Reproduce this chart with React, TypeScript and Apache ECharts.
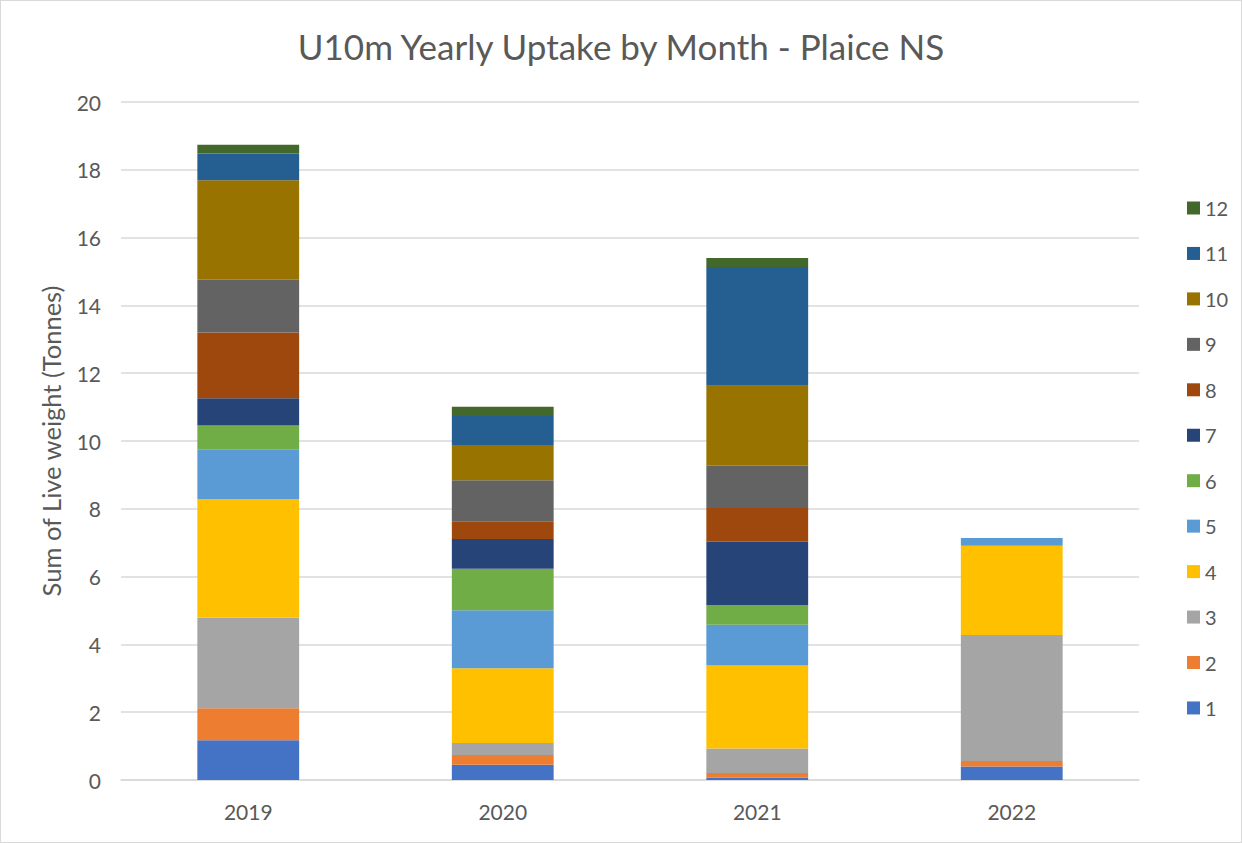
import React, { useEffect, useRef } from "react";
import * as echarts from "echarts";

const years = ["2019", "2020", "2021", "2022"];
const months = ["1", "2", "3", "4", "5", "6", "7", "8", "9", "10", "11", "12"];
const m1 = [1.17, 0.45, 0.07, 0.4];
const m2 = [0.95, 0.29, 0.14, 0.16];
const m3 = [2.67, 0.35, 0.72, 3.72];
const m4 = [3.5, 2.21, 2.45, 2.63];
const m5 = [1.45, 1.71, 1.2, 0.23];
const m6 = [0.72, 1.22, 0.58, 0];
const m7 = [0.8, 0.88, 1.87, 0];
const m8 = [1.94, 0.52, 0.99, 0];
const m9 = [1.56, 1.21, 1.25, 0];
const m10 = [2.93, 1.04, 2.36, 0];
const m11 = [0.79, 0.86, 3.5, 0];
const m12 = [0.26, 0.27, 0.27, 0];
const monthValues = [m1, m2, m3, m4, m5, m6, m7, m8, m9, m10, m11, m12];
const colors = [
  "#4472C4", "#ED7D31", "#A5A5A5", "#FFC000", "#5B9BD5", "#70AD47",
  "#264478", "#9E480E", "#636363", "#997300", "#255E91", "#43682B",
];
const yTicks = { min: 0, max: 20, interval: 2 };

const FONT = "Lato";

export default function App() {
  const ref = useRef<HTMLDivElement>(null);
  useEffect(() => {
    document.body.style.margin = "0";
    const chart = echarts.init(ref.current!, null, { renderer: "svg" });
    chart.setOption({
      animation: false,
      backgroundColor: "#ffffff",
      textStyle: { fontFamily: FONT },
      title: {
        text: "U10m Yearly Uptake by Month - Plaice NS",
        left: "center",
        top: 22,
        textStyle: { fontFamily: FONT, fontSize: 35, fontWeight: "normal", color: "#595959" },
      },
      grid: { left: 120, right: 102, top: 101, bottom: 62 },
      legend: {
        orient: "vertical",
        top: 192,
        left: 1181,
        data: months.slice().reverse(),
        itemWidth: 13,
        itemHeight: 13,
        itemGap: 25.45,
        icon: "rect",
        textStyle: { fontFamily: FONT, fontSize: 20, color: "#595959", lineHeight: 20 },
      },
      xAxis: {
        type: "category",
        data: years,
        axisLine: { lineStyle: { color: "#d9d9d9", width: 1.5 } },
        axisTick: { show: false },
        axisLabel: { fontFamily: FONT, fontSize: 21, color: "#595959", margin: 21 },
      },
      yAxis: {
        type: "value",
        min: yTicks.min,
        max: yTicks.max,
        interval: yTicks.interval,
        name: "Sum of Live weight (Tonnes)",
        nameLocation: "middle",
        nameGap: 57,
        nameTextStyle: { fontFamily: FONT, fontSize: 25.5, color: "#595959" },
        axisLine: { show: false },
        axisTick: { show: false },
        axisLabel: { fontFamily: FONT, fontSize: 21, color: "#595959", margin: 20 },
        splitLine: { lineStyle: { color: "#d9d9d9", width: 1.5 } },
      },
      series: months.map((m, i) => ({
        name: m,
        type: "bar",
        stack: "total",
        barWidth: "40%",
        itemStyle: { color: colors[i] },
        data: monthValues[i],
      })),
    });
    return () => chart.dispose();
  }, []);
  return (
    <div
      ref={ref}
      style={{ width: 1242, height: 843, boxSizing: "border-box", border: "1px solid #d9d9d9" }}
    />
  );
}
